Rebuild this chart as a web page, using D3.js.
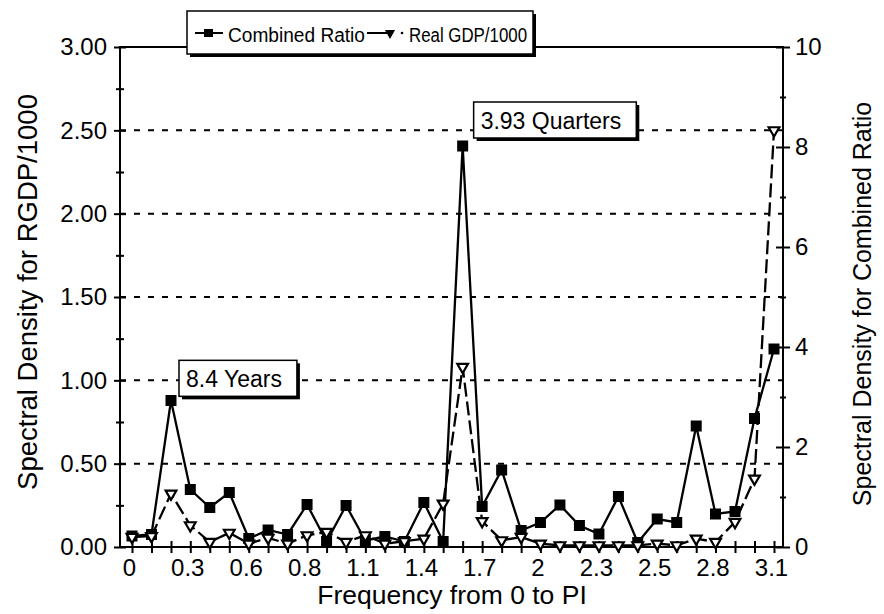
<!DOCTYPE html>
<html>
<head>
<meta charset="utf-8">
<script src="https://cdn.jsdelivr.net/npm/d3@7"></script>
<style>
body{ margin:0; background:#fff; }
text{ font-family:"Liberation Sans", Arial, Helvetica, sans-serif; fill:#000; }
</style>
</head>
<body>
<svg id="chart" width="884" height="614"></svg>
<script>

// Frequencies (0 to PI), one per point.
const freq = [0.000, 0.094, 0.188, 0.281, 0.375, 0.469, 0.563, 0.656, 0.750, 0.844,
              0.938, 1.032, 1.125, 1.219, 1.313, 1.407, 1.500, 1.594, 1.688, 1.782,
              1.876, 1.969, 2.063, 2.157, 2.251, 2.345, 2.438, 2.532, 2.626, 2.720,
              2.813, 2.907, 3.001, 3.095];

// Spectral density for the combined ratio (right axis).
const combinedRatio = [0.22, 0.25, 2.93, 1.15, 0.79, 1.09, 0.17, 0.34, 0.25, 0.85,
                       0.11, 0.83, 0.13, 0.21, 0.11, 0.89, 0.11, 8.02, 0.81, 1.54,
                       0.33, 0.49, 0.84, 0.43, 0.26, 1.01, 0.09, 0.56, 0.49, 2.42,
                       0.66, 0.71, 2.57, 3.96];

// Spectral density for real GDP/1000 (left axis).
const realGdp = [0.06, 0.065, 0.32, 0.13, 0.03, 0.085, 0.02, 0.055, 0.02, 0.07,
                 0.09, 0.03, 0.07, 0.02, 0.035, 0.05, 0.26, 1.08, 0.155, 0.04,
                 0.06, 0.02, 0.01, 0.01, 0.01, 0.01, 0.01, 0.02, 0.01, 0.05,
                 0.03, 0.15, 0.41, 2.50];

const leftTicks = [0, 0.25, 0.5, 0.75, 1, 1.25, 1.5, 1.75, 2, 2.25, 2.5, 2.75, 3];
const gridValues = [0.5, 1, 1.5, 2, 2.5];
const rightTicks = [0, 1, 2, 3, 4, 5, 6, 7, 8, 9, 10];

// Annotations: text, index of the point, value on the left axis for the box top.
const notes = [
	{text: "8.4 Years", index: 2, top: 1.12, dx: 8},
	{text: "3.93 Quarters", index: 17, top: 2.67, dx: 11}
];


const svg = d3.select("#chart");
const margin = {top: 47, right: 101, bottom: 67, left: 120};
const width = 884 - margin.left - margin.right;
const height = 614 - margin.top - margin.bottom;

const g = svg.append("g")
  .attr("transform", `translate(${margin.left},${margin.top})`);

const x = d3.scaleLinear().domain([freq[0], freq[freq.length-1]]).range([12, width-9]);
const yL = d3.scaleLinear().domain([0, 3]).range([height, 0]);
const yR = d3.scaleLinear().domain([0, 10]).range([height, 0]);


// Dashed gridlines.
g.append("g")
  .selectAll("line")
  .data(gridValues)
  .enter()
  .append("line")
	.attr("x1", 0)
	.attr("x2", width)
	.attr("y1", d=>yL(d))
	.attr("y2", d=>yL(d))
	.attr("stroke", "#000")
	.attr("stroke-width", 2)
	.attr("stroke-dasharray", "6,8");


// Frame.
g.append("rect")
  .attr("width", width)
  .attr("height", height)
  .attr("fill", "none")
  .attr("stroke", "#000")
  .attr("stroke-width", 2);


// Axes, ticks crossing the frame. Empty labels are dropped.
const xAxis = g.append("g")
  .attr("transform", `translate(0,${height})`)
  .call(d3.axisBottom(x)
	.tickValues(freq)
	.tickFormat((d,i)=> i%3==0 ? d3.format(".1~f")(d) : ""));

xAxis.selectAll("line").attr("y1", -6).attr("y2", 6).attr("stroke-width", 2);
xAxis.selectAll("text").attr("y", 12).attr("dx", -3).attr("font-size", 24);

const leftAxis = g.append("g")
  .call(d3.axisLeft(yL)
	.tickValues(leftTicks)
	.tickFormat(d=> (d*4)%2==0 ? d3.format(".2f")(d) : ""));

leftAxis.selectAll("line")
  .attr("x1", d=> (d*4)%2==0 ? -6 : -4)
  .attr("x2", d=> (d*4)%2==0 ? 6 : 4)
  .attr("stroke-width", 2);
leftAxis.selectAll("text").attr("x", -13).attr("font-size", 24);

const rightAxis = g.append("g")
  .attr("transform", `translate(${width},0)`)
  .call(d3.axisRight(yR)
	.tickValues(rightTicks)
	.tickFormat(d=> d%2==0 ? d : ""));

rightAxis.selectAll("line")
  .attr("x1", d=> d%2==0 ? -7 : -3)
  .attr("x2", d=> d%2==0 ? 7 : 3)
  .attr("stroke-width", 2);
rightAxis.selectAll("text").attr("x", 12).attr("font-size", 24);

g.selectAll(".domain").remove();
g.selectAll(".tick text").filter(function(){ return this.textContent == ""; }).remove();


// Axis titles.
svg.append("text")
  .attr("transform", "translate(37,292) rotate(-90)")
  .attr("text-anchor", "middle")
  .attr("font-size", 27.5)
  .text("Spectral Density for RGDP/1000");

svg.append("text")
  .attr("transform", "translate(871,304) rotate(-90)")
  .attr("text-anchor", "middle")
  .attr("font-size", 25)
  .text("Spectral Density for Combined Ratio");

svg.append("text")
  .attr("x", 452)
  .attr("y", 604)
  .attr("text-anchor", "middle")
  .attr("font-size", 26.5)
  .text("Frequency from 0 to PI");


// Combined ratio: solid line with squares.
g.append("path")
  .datum(combinedRatio)
  .attr("fill", "none")
  .attr("stroke", "#000")
  .attr("stroke-width", 2.3)
  .attr("d", d3.line().x((d,i)=>x(freq[i])).y(d=>yR(d)));

g.append("g")
  .selectAll("rect")
  .data(combinedRatio)
  .enter()
  .append("rect")
	.attr("x", (d,i)=>x(freq[i])-5.5)
	.attr("y", d=>yR(d)-5.5)
	.attr("width", 11)
	.attr("height", 11)
	.attr("fill", "#000");


// Real GDP: dashed line with triangles.
g.append("path")
  .datum(realGdp)
  .attr("fill", "none")
  .attr("stroke", "#000")
  .attr("stroke-width", 2.3)
  .attr("stroke-dasharray", "14,5")
  .attr("d", d3.line().x((d,i)=>x(freq[i])).y(d=>yL(d)));

const tri = d3.symbol().type(d3.symbolTriangle).size(50);

g.append("g")
  .selectAll("path")
  .data(realGdp)
  .enter()
  .append("path")
	.attr("d", tri)
	.attr("transform", (d,i)=>`translate(${x(freq[i])},${yL(d)}) rotate(180)`)
	.attr("fill", "#fff")
	.attr("stroke", "#000")
	.attr("stroke-width", 2.2);


// Boxed labels with a drop shadow.
function box(parent, bx, by, bw, bh){
	parent.append("rect")
	  .attr("x", bx+3).attr("y", by+3)
	  .attr("width", bw).attr("height", bh)
	  .attr("fill", "#000");
	parent.append("rect")
	  .attr("x", bx).attr("y", by)
	  .attr("width", bw).attr("height", bh)
	  .attr("fill", "#fff")
	  .attr("stroke", "#000")
	  .attr("stroke-width", 1.5);
} // box

notes.forEach(n=>{
	let bx = x(freq[n.index]) + n.dx;
	let by = yL(n.top);
	let ng = g.append("g");
	let t = ng.append("text")
	  .attr("x", bx+7)
	  .attr("y", by+27)
	  .attr("font-size", 23)
	  .text(n.text);
	let tw = t.node().getComputedTextLength();
	ng.insert("g", "text").call(p=>box(p, bx, by, tw+22, 36));
});


// Legend sitting on the top border.
const lg = svg.append("g").attr("transform", "translate(187,11)");
box(lg, 0, 0, 346, 43);

lg.append("line")
  .attr("x1", 8).attr("x2", 36).attr("y1", 22).attr("y2", 22)
  .attr("stroke", "#000").attr("stroke-width", 2);
lg.append("rect")
  .attr("x", 17).attr("y", 18).attr("width", 9).attr("height", 8)
  .attr("fill", "#000");

lg.append("text")
  .attr("x", 41).attr("y", 31)
  .attr("font-size", 20)
  .attr("textLength", 137)
  .attr("lengthAdjust", "spacingAndGlyphs")
  .text("Combined Ratio");

lg.append("line")
  .attr("x1", 180).attr("x2", 201).attr("y1", 22).attr("y2", 22)
  .attr("stroke", "#000").attr("stroke-width", 2);
lg.append("path")
  .attr("d", d3.symbol().type(d3.symbolTriangle).size(45))
  .attr("transform", "translate(203,22) rotate(180)")
  .attr("fill", "#000");
lg.append("circle")
  .attr("cx", 215).attr("cy", 22).attr("r", 1.3)
  .attr("fill", "#000");

lg.append("text")
  .attr("x", 222).attr("y", 31)
  .attr("font-size", 20)
  .attr("textLength", 118)
  .attr("lengthAdjust", "spacingAndGlyphs")
  .text("Real GDP/1000");

</script>
</body>
</html>
